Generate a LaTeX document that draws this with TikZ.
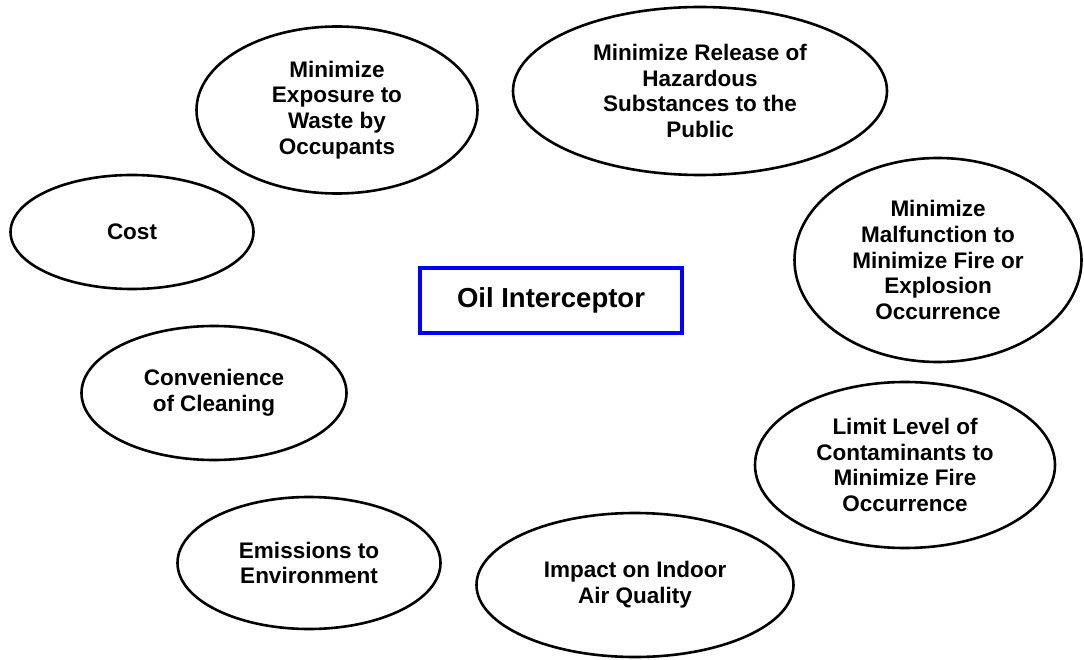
\documentclass[tikz,border=0pt]{standalone}
\usepackage{fontspec}
\setmainfont{Liberation Sans}
\usetikzlibrary{shapes.geometric}

\begin{document}
\begin{tikzpicture}[x=1pt, y=-1pt,
    goal/.style={draw, ellipse, line width=2.6pt, inner sep=0pt, align=center,
                 font=\fontsize{22.5}{25.8}\selectfont\bfseries},
    system/.style={draw=blue, line width=3.6pt, inner sep=0pt, minimum width=262pt,
                 minimum height=65pt, font=\fontsize{27.5}{30}\selectfont\bfseries}]
        \useasboundingbox (0,0) rectangle (1084,660);                      %
        \node [system] (interceptor) at (551,300.5) {Oil Interceptor};     %center box
        \node [goal, minimum width=281pt, minimum height=167pt] (exposure) at (337,110)
              {Minimize\\Exposure to\\Waste by\\Occupants};                %
        \node [goal, minimum width=374pt, minimum height=168pt] (release) at (700,91)
              {Minimize Release of\\Hazardous\\Substances to the\\Public}; %
        \node [goal, minimum width=243pt, minimum height=114pt] (cost) at (132,232)
              {Cost};                                                      %
        \node [goal, minimum width=287pt, minimum height=204pt] (malfunction) at (938,260)
              {Minimize\\Malfunction to\\Minimize Fire or\\Explosion\\Occurrence};
        \node [goal, minimum width=265pt, minimum height=134pt] (cleaning) at (214,393)
              {Convenience\\of Cleaning};                                  %
        \node [goal, minimum width=300pt, minimum height=166pt] (contaminants) at (905,465)
              {Limit Level of\\Contaminants to\\Minimize Fire\\Occurrence}; %
        \node [goal, minimum width=263pt, minimum height=132pt] (emissions) at (309,563)
              {Emissions to\\Environment};                                 %
        \node [goal, minimum width=317pt, minimum height=144pt] (indoor) at (635,585)
              {Impact on Indoor\\Air Quality};                             %
\end{tikzpicture}
\end{document}
